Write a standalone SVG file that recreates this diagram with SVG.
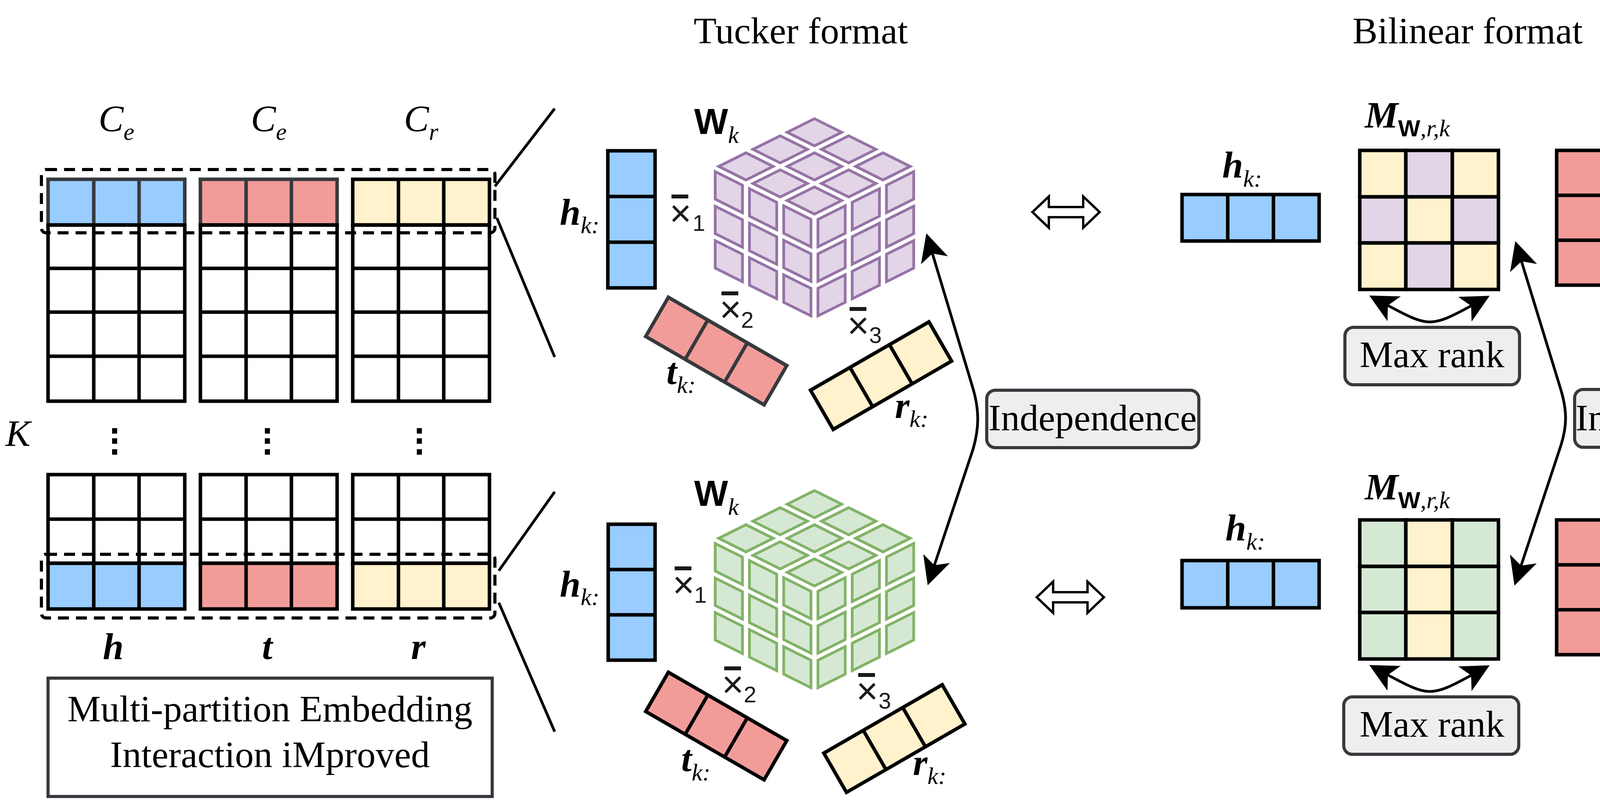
<svg xmlns="http://www.w3.org/2000/svg" width="6896" height="2048" viewBox="0 0 6896 2048">
<defs>
<style>
text{font-family:"Liberation Serif","Times New Roman",serif;font-size:96px;fill:#000}
.bi{font-weight:bold;font-style:italic}
.it{font-style:italic}
.sub{font-size:62px;font-style:italic;font-weight:normal}
.sw{font-family:"Liberation Sans",Arial,sans-serif;font-weight:bold;font-size:60px;font-style:normal}
.wb{font-family:"Liberation Sans",Arial,sans-serif;font-weight:bold;font-size:92px}
.xs{font-family:"Liberation Sans",Arial,sans-serif;font-size:96px;fill:#1a1a1a}
.xn{font-family:"Liberation Sans",Arial,sans-serif;font-size:58px;fill:#1a1a1a}
.pm{font-family:"Liberation Sans",Arial,sans-serif;font-weight:bold;font-size:120px}
.ln{stroke:#000;stroke-width:7;fill:none}
.grid{stroke:#000;stroke-width:9;fill:none}
.gd{stroke:#36393d;stroke-width:9;fill:none}
.cell{stroke:#000;stroke-width:9}
.celld{stroke:#36393d;stroke-width:9}
.blue{fill:#99ccff}
.red{fill:#f19c99}
.yel{fill:#fff2cc}
.pur{fill:#e1d5e7}
.grn{fill:#d5e8d4}
.dash{fill:none;stroke:#000;stroke-width:8;stroke-dasharray:28 18}
.dash2{fill:#fff;stroke:#000;stroke-width:7;stroke-dasharray:26 16}
.dot{fill:none;stroke:#000;stroke-width:8;stroke-dasharray:8 8}
.gbox{fill:#eeeeee;stroke:#36393d;stroke-width:8}
.wbox{fill:#fff;stroke:#000;stroke-width:7}
.node{fill:#fff;stroke:#000;stroke-width:9}
.e{stroke-width:14;fill:none}
.eb{stroke:#99ccff}
.ey{stroke:#d6b656}
.ep{stroke:#9673a6}
.er{stroke:#f19c99}
.eg{stroke:#82b366}
.arr{fill:none;stroke:#000;stroke-width:7;marker-start:url(#ah);marker-end:url(#ah)}
.cp{fill:#e1d5e7;stroke:#9673a6;stroke-width:7}
.cg{fill:#d5e8d4;stroke:#82b366;stroke-width:7}
.dbl{fill:#fff;stroke:#000;stroke-width:6}
</style>
<marker id="ah" viewBox="-20 -40 80 80" refX="0" refY="0" markerWidth="80" markerHeight="80" markerUnits="userSpaceOnUse" orient="auto-start-reverse"><path d="M54,0 L-18,-36 L0,0 L-18,36 Z" fill="#000"/></marker>
<g id="face">
<rect x="0.034" y="0.034" width="0.2653" height="0.2653" vector-effect="non-scaling-stroke"/>
<rect x="0.3673" y="0.034" width="0.2653" height="0.2653" vector-effect="non-scaling-stroke"/>
<rect x="0.7007" y="0.034" width="0.2653" height="0.2653" vector-effect="non-scaling-stroke"/>
<rect x="0.034" y="0.3673" width="0.2653" height="0.2653" vector-effect="non-scaling-stroke"/>
<rect x="0.3673" y="0.3673" width="0.2653" height="0.2653" vector-effect="non-scaling-stroke"/>
<rect x="0.7007" y="0.3673" width="0.2653" height="0.2653" vector-effect="non-scaling-stroke"/>
<rect x="0.034" y="0.7007" width="0.2653" height="0.2653" vector-effect="non-scaling-stroke"/>
<rect x="0.3673" y="0.7007" width="0.2653" height="0.2653" vector-effect="non-scaling-stroke"/>
<rect x="0.7007" y="0.7007" width="0.2653" height="0.2653" vector-effect="non-scaling-stroke"/>
</g>
<polygon id="dblarrow" points="-86,0 -44,-40 -44,-13 44,-13 44,-40 86,0 44,40 44,13 -44,13 -44,40"/>
</defs>
<rect width="6896" height="2048" fill="#fff"/>

<!-- ===== Left: embedding table ===== -->
<g id="table">
<text x="298" y="336" text-anchor="middle" class="it">C<tspan class="sub" dy="22">e</tspan></text>
<text x="688" y="336" text-anchor="middle" class="it">C<tspan class="sub" dy="22">e</tspan></text>
<text x="1078" y="336" text-anchor="middle" class="it">C<tspan class="sub" dy="22">r</tspan></text>
<text x="14" y="1142" class="it">K</text>

<rect x="123" y="459" width="350" height="117" class="blue celld"/>
<path class="gd" d="M240,459V576M356,459V576"/>
<rect x="513" y="459" width="350" height="117" class="red celld"/>
<path class="gd" d="M630,459V576M746,459V576"/>
<rect x="903" y="459" width="350" height="117" class="yel cell"/>
<path class="grid" d="M1020,459V576M1136,459V576"/>

<path class="grid" d="M123,576H473V1027H123Z M240,576V1027 M356,576V1027 M123,687H473 M123,799H473 M123,912H473"/>
<path class="grid" d="M513,576H863V1027H513Z M630,576V1027 M746,576V1027 M513,687H863 M513,799H863 M513,912H863"/>
<path class="grid" d="M903,576H1253V1027H903Z M1020,576V1027 M1136,576V1027 M903,687H1253 M903,799H1253 M903,912H1253"/>

<g fill="#000">
<rect x="287" y="1096" width="13" height="14"/><rect x="287" y="1122" width="13" height="14"/><rect x="287" y="1150" width="13" height="14"/>
<rect x="678" y="1096" width="13" height="14"/><rect x="678" y="1122" width="13" height="14"/><rect x="678" y="1150" width="13" height="14"/>
<rect x="1067" y="1096" width="13" height="14"/><rect x="1067" y="1122" width="13" height="14"/><rect x="1067" y="1150" width="13" height="14"/>
</g>

<path class="grid" d="M123,1215H473V1442H123Z M240,1215V1442 M356,1215V1442 M123,1329H473"/>
<path class="grid" d="M513,1215H863V1442H513Z M630,1215V1442 M746,1215V1442 M513,1329H863"/>
<path class="grid" d="M903,1215H1253V1442H903Z M1020,1215V1442 M1136,1215V1442 M903,1329H1253"/>
<rect x="123" y="1442" width="350" height="117" class="blue cell"/>
<path class="grid" d="M240,1442V1559M356,1442V1559"/>
<rect x="513" y="1442" width="350" height="117" class="red cell"/>
<path class="grid" d="M630,1442V1559M746,1442V1559"/>
<rect x="903" y="1442" width="350" height="117" class="yel cell"/>
<path class="grid" d="M1020,1442V1559M1136,1442V1559"/>

<rect x="106" y="434" width="1161" height="162" rx="12" class="dash"/>
<rect x="106" y="1419" width="1161" height="163" rx="12" class="dash"/>

<text x="290" y="1687" text-anchor="middle" class="bi">h</text>
<text x="684" y="1687" text-anchor="middle" class="bi">t</text>
<text x="1071" y="1687" text-anchor="middle" class="bi">r</text>
</g>

<g id="mei-box">
<rect x="123" y="1736" width="1137" height="303" fill="#fff" stroke="#36393d" stroke-width="8"/>
<text x="691" y="1847" text-anchor="middle" font-size="94">Multi-partition Embedding</text>
<text x="691" y="1964" text-anchor="middle" font-size="94">Interaction iMproved</text>
</g>

<!-- ===== Titles ===== -->
<text id="title-tucker" x="2050" y="111" text-anchor="middle">Tucker format</text>
<text id="title-bilinear" x="3757" y="111" text-anchor="middle">Bilinear format</text>
<text id="title-nn" x="5192" y="111" text-anchor="middle">Neural network format</text>

<!-- ===== Tucker top ===== -->
<g id="tucker-top">
<text x="1777" y="343"><tspan class="wb">W</tspan><tspan class="sub" dy="23">k</tspan></text>
<g id="cube-top">
<use href="#face" class="cp" transform="matrix(-263,-131,263,-131,2085,557)"/>
<use href="#face" class="cp" transform="matrix(-263,-131,0,265,2085,557)"/>
<use href="#face" class="cp" transform="matrix(263,-131,0,265,2085,557)"/>
</g>
<rect x="1556" y="386" width="121" height="351" class="blue cell"/>
<path class="grid" d="M1556,503H1677M1556,620H1677"/>
<text x="1433" y="575"><tspan class="bi">h</tspan><tspan class="sub" dy="22">k:</tspan></text>
<g transform="translate(1711,761) rotate(30)">
<rect width="350" height="116" class="red celld"/>
<path class="gd" d="M116.7,0V116M233.3,0V116"/>
</g>
<text x="1706" y="983"><tspan class="bi">t</tspan><tspan class="sub" dy="23">k:</tspan></text>
<g transform="translate(2075,999) rotate(-30)">
<rect width="350" height="116" class="yel cell"/>
<path class="grid" d="M116.7,0V116M233.3,0V116"/>
</g>
<text x="2291" y="1070"><tspan class="bi">r</tspan><tspan class="sub" dy="23">k:</tspan></text>
<rect x="1719" y="498" width="43" height="10" fill="#1a1a1a"/>
<text x="1742" y="579" text-anchor="middle" class="xs">×</text>
<text x="1773" y="591" class="xn">1</text>
<rect x="1847" y="746" width="43" height="10" fill="#1a1a1a"/>
<text x="1870" y="825" text-anchor="middle" class="xs">×</text>
<text x="1897" y="839" class="xn">2</text>
<rect x="2175" y="786" width="43" height="10" fill="#1a1a1a"/>
<text x="2197" y="866" text-anchor="middle" class="xs">×</text>
<text x="2225" y="878" class="xn">3</text>
</g>

<!-- ===== Tucker bottom ===== -->
<g id="tucker-bottom">
<text x="1777" y="1295"><tspan class="wb">W</tspan><tspan class="sub" dy="23">k</tspan></text>
<g id="cube-bottom">
<use href="#face" class="cg" transform="matrix(-263,-131,263,-131,2085,1509)"/>
<use href="#face" class="cg" transform="matrix(-263,-131,0,265,2085,1509)"/>
<use href="#face" class="cg" transform="matrix(263,-131,0,265,2085,1509)"/>
</g>
<rect x="1557" y="1342" width="120" height="348" class="blue cell"/>
<path class="grid" d="M1557,1458H1677M1557,1574H1677"/>
<text x="1433" y="1527"><tspan class="bi">h</tspan><tspan class="sub" dy="22">k:</tspan></text>
<g transform="translate(1711,1721) rotate(30)">
<rect width="350" height="116" class="red cell"/>
<path class="grid" d="M116.7,0V116M233.3,0V116"/>
</g>
<text x="1744" y="1974"><tspan class="bi">t</tspan><tspan class="sub" dy="24">k:</tspan></text>
<g transform="translate(2109,1928) rotate(-30)">
<rect width="350" height="116" class="yel cell"/>
<path class="grid" d="M116.7,0V116M233.3,0V116"/>
</g>
<text x="2337" y="1984"><tspan class="bi">r</tspan><tspan class="sub" dy="23">k:</tspan></text>
<rect x="1727" y="1450" width="43" height="10" fill="#1a1a1a"/>
<text x="1750" y="1530" text-anchor="middle" class="xs">×</text>
<text x="1777" y="1543" class="xn">1</text>
<rect x="1854" y="1706" width="43" height="10" fill="#1a1a1a"/>
<text x="1876" y="1785" text-anchor="middle" class="xs">×</text>
<text x="1904" y="1798" class="xn">2</text>
<rect x="2197" y="1723" width="43" height="10" fill="#1a1a1a"/>
<text x="2220" y="1802" text-anchor="middle" class="xs">×</text>
<text x="2249" y="1814" class="xn">3</text>
</g>

<!-- ===== Bilinear top ===== -->
<g id="bilinear-top">
<text x="3129" y="454"><tspan class="bi">h</tspan><tspan class="sub" dy="24">k:</tspan></text>
<rect x="3026" y="498" width="351" height="119" class="blue cell"/>
<path class="grid" d="M3143,498V617M3260,498V617"/>
<text x="3494" y="327"><tspan class="bi">M</tspan><tspan class="sw" dy="22">W</tspan><tspan class="sub">,r,k</tspan></text>
<rect x="3481" y="385" width="118" height="119" class="yel cell"/>
<rect x="3599" y="385" width="119" height="119" class="pur cell"/>
<rect x="3718" y="385" width="118" height="119" class="yel cell"/>
<rect x="3481" y="504" width="118" height="118" class="pur cell"/>
<rect x="3599" y="504" width="119" height="118" class="yel cell"/>
<rect x="3718" y="504" width="118" height="118" class="pur cell"/>
<rect x="3481" y="622" width="118" height="119" class="yel cell"/>
<rect x="3599" y="622" width="119" height="119" class="pur cell"/>
<rect x="3718" y="622" width="118" height="119" class="yel cell"/>
<rect x="3985" y="385" width="120" height="345" class="red cell"/>
<path class="grid" d="M3985,500H4105M3985,615H4105"/>
<text x="4112" y="581"><tspan class="bi">t</tspan><tspan class="sub" dy="26">k:</tspan></text>
<rect x="3443" y="838" width="447" height="147" rx="22" class="gbox"/>
<text x="3666" y="940" text-anchor="middle">Max rank</text>
</g>

<!-- ===== Bilinear bottom ===== -->
<g id="bilinear-bottom">
<text x="3137" y="1383"><tspan class="bi">h</tspan><tspan class="sub" dy="24">k:</tspan></text>
<rect x="3026" y="1435" width="351" height="121" class="blue cell"/>
<path class="grid" d="M3143,1435V1556M3260,1435V1556"/>
<text x="3494" y="1279"><tspan class="bi">M</tspan><tspan class="sw" dy="22">W</tspan><tspan class="sub">,r,k</tspan></text>
<rect x="3481" y="1331" width="118" height="119" class="grn cell"/>
<rect x="3599" y="1331" width="119" height="119" class="yel cell"/>
<rect x="3718" y="1331" width="118" height="119" class="grn cell"/>
<rect x="3481" y="1450" width="118" height="118" class="grn cell"/>
<rect x="3599" y="1450" width="119" height="118" class="yel cell"/>
<rect x="3718" y="1450" width="118" height="118" class="grn cell"/>
<rect x="3481" y="1568" width="118" height="119" class="grn cell"/>
<rect x="3599" y="1568" width="119" height="119" class="yel cell"/>
<rect x="3718" y="1568" width="118" height="119" class="grn cell"/>
<rect x="3985" y="1331" width="120" height="345" class="red cell"/>
<path class="grid" d="M3985,1446H4105M3985,1561H4105"/>
<text x="4112" y="1527"><tspan class="bi">t</tspan><tspan class="sub" dy="26">k:</tspan></text>
<rect x="3440" y="1784" width="448" height="147" rx="22" class="gbox"/>
<text x="3666" y="1886" text-anchor="middle">Max rank</text>
</g>

<!-- ===== Neural network top ===== -->
<g id="nn-top">
<text x="4795" y="222"><tspan class="bi">h</tspan><tspan class="sub" dy="25">k:</tspan></text>
<text x="5065" y="222"><tspan class="bi">M</tspan><tspan class="sw" dy="25">W</tspan><tspan class="sub">,r,k</tspan></text>
<text x="5475" y="222"><tspan class="bi">t</tspan><tspan class="sub" dy="25">k:</tspan></text>
<rect x="4795" y="271" width="153" height="640" class="dot"/>
<rect x="5067" y="271" width="273" height="640" class="dot"/>
<rect x="5460" y="271" width="150" height="640" class="dot"/>
<circle cx="4730" cy="596" r="58" class="node"/>
<circle cx="5007" cy="340" r="58" class="node"/>
<circle cx="5007" cy="596" r="58" class="node"/>
<circle cx="5007" cy="852" r="58" class="node"/>
<circle cx="5400" cy="340" r="58" class="node"/>
<circle cx="5400" cy="596" r="58" class="node"/>
<circle cx="5400" cy="852" r="58" class="node"/>
<circle cx="5672" cy="596" r="58" class="node"/>
<path class="e eb" d="M4788,596L4949,340M4788,596H4949M4788,596L4949,852"/>
<path class="e ey" d="M5065,340H5342M5065,340L5342,852M5065,596H5342M5065,852L5342,340M5065,852H5342"/>
<path class="e ep" d="M5065,340L5342,596M5065,596L5342,340M5065,596L5342,852M5065,852L5342,596"/>
<path class="e er" d="M5458,340L5614,596M5458,596H5614M5458,852L5614,596"/>
</g>

<!-- ===== Neural network bottom ===== -->
<g id="nn-bottom">
<rect x="4795" y="1234" width="153" height="640" class="dot"/>
<rect x="5067" y="1234" width="273" height="640" class="dot"/>
<rect x="5460" y="1234" width="150" height="640" class="dot"/>
<circle cx="4730" cy="1559" r="58" class="node"/>
<circle cx="5007" cy="1303" r="58" class="node"/>
<circle cx="5007" cy="1559" r="58" class="node"/>
<circle cx="5007" cy="1815" r="58" class="node"/>
<circle cx="5400" cy="1303" r="58" class="node"/>
<circle cx="5400" cy="1559" r="58" class="node"/>
<circle cx="5400" cy="1815" r="58" class="node"/>
<circle cx="5672" cy="1559" r="58" class="node"/>
<path class="e eb" d="M4788,1559L4949,1303M4788,1559H4949M4788,1559L4949,1815"/>
<path class="e eg" d="M5065,1303H5342M5065,1303L5342,1815M5065,1559L5342,1303M5065,1559L5342,1815M5065,1815L5342,1303M5065,1815H5342"/>
<path class="e ey" d="M5065,1303L5342,1559M5065,1559H5342M5065,1815L5342,1559"/>
<path class="e er" d="M5458,1303L5614,1559M5458,1559H5614M5458,1815L5614,1559"/>
<text x="4810" y="1958"><tspan class="bi">h</tspan><tspan class="sub" dy="25">k:</tspan></text>
<text x="5080" y="1958"><tspan class="bi">M</tspan><tspan class="sw" dy="25">W</tspan><tspan class="sub">,r,k</tspan></text>
<text x="5490" y="1950"><tspan class="bi">t</tspan><tspan class="sub" dy="25">k:</tspan></text>
</g>

<!-- ===== Independence labels ===== -->
<g id="indep-1">
<rect x="2526" y="999" width="543" height="147" rx="22" class="gbox"/>
<text x="2797" y="1102" text-anchor="middle">Independence</text>
</g>
<g id="indep-2">
<rect x="4031" y="997" width="539" height="148" rx="22" class="gbox"/>
<text x="4300" y="1102" text-anchor="middle">Independence</text>
</g>
<g id="indep-3">
<rect x="5285" y="1001" width="540" height="147" rx="22" class="gbox"/>
<text x="5555" y="1104" text-anchor="middle">Independence</text>
</g>

<!-- ===== Right column ===== -->
<g id="local-interaction">
<rect x="6005" y="141" width="804" height="159" rx="28" class="wbox"/>
<text x="6080" y="232">Local interaction</text>
</g>
<g id="local-score-1">
<rect x="5964" y="451" width="885" height="160" rx="25" class="dash2"/>
<text y="542"><tspan x="6027">Local score at</tspan><tspan x="6590" class="it">k</tspan><tspan x="6652">=</tspan><tspan x="6740">1</tspan></text>
</g>
<text x="6403" y="886" text-anchor="middle" class="pm">+</text>
<g fill="#000">
<rect x="6397" y="993" width="11" height="12"/><rect x="6397" y="1019" width="11" height="12"/><rect x="6397" y="1046" width="11" height="12"/>
</g>
<text x="6403" y="1248" text-anchor="middle" class="pm">+</text>
<g id="local-score-K">
<rect x="5964" y="1408" width="885" height="159" rx="25" class="dash2"/>
<text y="1502"><tspan x="6013">Local score at</tspan><tspan x="6576" class="it">k</tspan><tspan x="6638">=</tspan><tspan x="6723" class="it">K</tspan></text>
</g>
<text x="6403" y="1701" text-anchor="middle" class="pm">=</text>
<g id="full-score">
<rect x="5924" y="1750" width="965" height="163" rx="28" class="wbox"/>
<text x="5996" y="1848">Full interaction score</text>
</g>

<!-- ===== Connectors ===== -->
<g id="connectors">
<path class="ln" d="M1267,477L1420,278M1272,558L1420,914M1277,1461L1420,1259M1277,1543L1420,1873"/>
<path class="ln" d="M5866,277L5968,477M5968,594L5866,914M5866,1228L5957,1437M5954,1541L5866,1874"/>
<use href="#dblarrow" class="dbl" transform="translate(2729,543)"/>
<use href="#dblarrow" class="dbl" transform="translate(2740,1529)"/>
<use href="#dblarrow" class="dbl" transform="translate(4446,540)"/>
<use href="#dblarrow" class="dbl" transform="translate(4457,1526)"/>
<polygon class="dbl" points="6387,346 6426,346 6426,385 6449,385 6407,415 6365,385 6387,385"/>
<path class="arr" d="M2387,649 L2491,995 C2507,1050 2507,1095 2491,1150 L2392,1447"/>
<path class="arr" d="M3895,669 L3995,995 C4012,1050 4012,1090 3996,1140 L3894,1448"/>
<path class="arr" d="M5221,965 L5238,1000 C5262,1045 5265,1090 5245,1130 L5220,1184"/>
<path class="arr" d="M3553,782 C3656,837 3663,839 3766,783"/>
<path class="arr" d="M3553,1728 C3656,1783 3663,1785 3766,1729"/>
</g>
</svg>
